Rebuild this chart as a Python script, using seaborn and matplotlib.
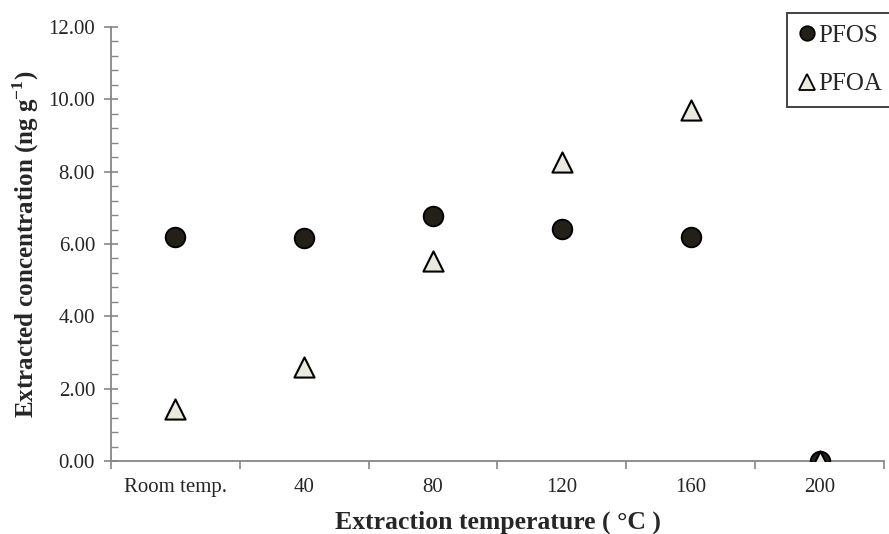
import matplotlib
matplotlib.use("Agg")
import matplotlib.pyplot as plt
import seaborn as sns
import pandas as pd
from matplotlib.lines import Line2D
from matplotlib.ticker import MultipleLocator, FixedLocator, NullFormatter, FixedFormatter, FuncFormatter

categories = ["Room temp.", "40", "80", "120", "160", "200"]
pfos = [6.19, 6.17, 6.77, 6.41, 6.19, 0.0]
pfoa = [1.44, 2.60, 5.53, 8.27, 9.70, 0.0]

sns.set_theme(style="white")
plt.rcParams["font.family"] = ["Liberation Serif", "DejaVu Serif"]
plt.rcParams["mathtext.fontset"] = "custom"
plt.rcParams["mathtext.rm"] = "Liberation Serif"
plt.rcParams["mathtext.bf"] = "Liberation Serif:bold"

df_s = pd.DataFrame({"temp": categories, "conc": pfos})
df_a = pd.DataFrame({"temp": categories, "conc": pfoa})

fig = plt.figure(figsize=(8.89, 5.34), dpi=100)
ax = fig.add_axes([111/889, 1-461/534, (884-111)/889, (461-27)/534])

circ_c = "#231f19"
tri_c = "#ebe9df"
sns.scatterplot(data=df_s, x="temp", y="conc", ax=ax, marker="o", s=200,
                color=circ_c, edgecolor="black", linewidth=1.3, zorder=3, legend=False)
sns.scatterplot(data=df_a, x="temp", y="conc", ax=ax, marker="^", s=210,
                color=tri_c, edgecolor="black", linewidth=1.5, zorder=4, legend=False)

ax.set_xlim(-0.5, len(categories) - 0.5)
ax.set_ylim(0, 12)
ax.yaxis.set_major_locator(MultipleLocator(2))
ax.yaxis.set_minor_locator(MultipleLocator(0.4))
ax.yaxis.set_major_formatter(FuncFormatter(lambda v, p: f"{v:.2f}"))

# category boundaries as major ticks, labels as minor ticks
ax.xaxis.set_major_locator(FixedLocator([i - 0.5 for i in range(len(categories) + 1)]))
ax.xaxis.set_major_formatter(NullFormatter())
ax.xaxis.set_minor_locator(FixedLocator(list(range(len(categories)))))
ax.xaxis.set_minor_formatter(FixedFormatter(categories))

spine_c = "#868686"
for s in ["top", "right"]:
    ax.spines[s].set_visible(False)
for s in ["left", "bottom"]:
    ax.spines[s].set_color(spine_c)
    ax.spines[s].set_linewidth(1.3)

ax.tick_params(axis="y", which="major", direction="inout", length=10, width=1.2,
               color=spine_c, labelsize=15, pad=6.5, left=True)
ax.tick_params(axis="y", which="minor", direction="in", length=5, width=1.0,
               color=spine_c, left=True)
ax.tick_params(axis="x", which="major", direction="out", length=6, width=1.2,
               color=spine_c, bottom=True)
ax.tick_params(axis="x", which="minor", length=0, labelsize=15, pad=12)

ax.set_xlabel("Extraction temperature ( °C )", fontsize=18.5, fontweight="bold", labelpad=10)
ax.set_ylabel(r"Extracted concentration (ng g$^{\mathbf{-1}}$)", fontsize=18,
              fontweight="bold", labelpad=5)

handles = [
    Line2D([], [], marker="o", linestyle="none", markersize=10.5,
           markerfacecolor=circ_c, markeredgecolor="black", markeredgewidth=1.2, label="PFOS"),
    Line2D([], [], marker="^", linestyle="none", markersize=11,
           markerfacecolor=tri_c, markeredgecolor="black", markeredgewidth=1.3, label="PFOA"),
]
leg = fig.legend(handles=handles, loc="upper left", bbox_to_anchor=(787/889, 1-13/534),
                 frameon=True, fancybox=False, edgecolor="black", fontsize=18,
                 handlelength=0.7, handletextpad=0.1, borderpad=0.45, labelspacing=1.05,
                 borderaxespad=0)
leg.get_frame().set_linewidth(1.3)

fig.savefig("out.png", dpi=100)
